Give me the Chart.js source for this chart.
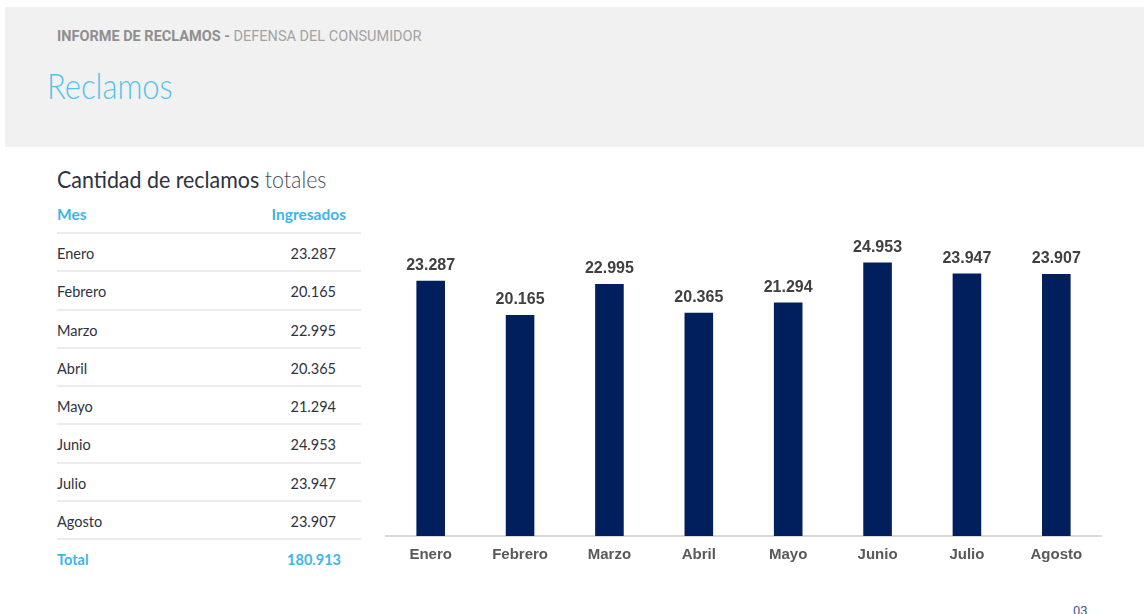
<!DOCTYPE html>
<html><head><meta charset="utf-8">
<script src="https://cdn.jsdelivr.net/npm/chart.js@4.4.1/dist/chart.umd.min.js"></script>
<style>
html,body{margin:0;padding:0;background:#fff;width:1144px;height:614px;overflow:hidden;}
#hdr{position:absolute;left:5px;top:7px;width:1139px;height:140px;background:#f1f1f1;}
#kicker{position:absolute;left:57px;top:28px;font:14.5px "Roboto",sans-serif;color:#a3a3a3;white-space:nowrap;}
#kicker b{color:#8f8f8f;font-weight:700;}
#title{position:absolute;left:47px;top:63px;font:300 36px "Lato",sans-serif;color:#55c3ee;transform:scaleX(0.86);transform-origin:left top;white-space:nowrap;}
#sub{position:absolute;left:57px;top:165px;font:23px "Lato",sans-serif;color:#2f3240;white-space:nowrap;transform:scaleX(0.93);transform-origin:left top;}
#sub span{font-weight:300;color:#4a4d57;}
#tbl{position:absolute;left:57px;top:200px;width:304px;font-family:"Lato",sans-serif;}
.row{position:relative;height:36.3px;border-bottom:2px solid #ececec;font-size:14.5px;color:#2f3240;}
.row .m{position:absolute;left:0;top:11px;}
.row .v{position:absolute;right:25px;top:11px;}
.row.h{height:32px;}
.row.h .m,.row.h .v{top:5px;color:#3db6ea;font-weight:700;font-size:15.5px;}
.row.h .v{right:15px;}
.row.t{border-bottom:none;}
.row.t .m,.row.t .v{color:#3db6ea;font-weight:700;}
.row.t .v{right:20px;}
#wrap{position:absolute;left:370px;top:228px;width:750px;height:360px;}
#pg{position:absolute;left:1073px;top:603px;font:13px "Roboto",sans-serif;color:#4a5a8a;}
</style></head>
<body>
<div id="hdr"></div>
<div id="kicker"><b>INFORME DE RECLAMOS -</b> DEFENSA DEL CONSUMIDOR</div>
<div id="title">Reclamos</div>
<div id="sub">Cantidad de reclamos <span>totales</span></div>
<div id="tbl"></div>
<div id="wrap"><canvas id="c" width="750" height="360"></canvas></div>
<div id="pg">03</div>
<script>
const months = ["Enero","Febrero","Marzo","Abril","Mayo","Junio","Julio","Agosto"];
const reclamos = [23287,20165,22995,20365,21294,24953,23947,23907];
const totalLabel = "Total";
const totalValue = 180913;
const headers = ["Mes","Ingresados"];

const fmt = v => v.toLocaleString('es-AR');

// table
const tbl = document.getElementById('tbl');
let html = '<div class="row h"><span class="m">'+headers[0]+'</span><span class="v">'+headers[1]+'</span></div>';
months.forEach((m,i)=>{ html += '<div class="row"><span class="m">'+m+'</span><span class="v">'+fmt(reclamos[i])+'</span></div>'; });
html += '<div class="row t"><span class="m">'+totalLabel+'</span><span class="v">'+fmt(totalValue)+'</span></div>';
tbl.innerHTML = html;

const labelPlugin = {
  id:'vals',
  afterDatasetsDraw(chart){
    const ctx = chart.ctx;
    const meta = chart.getDatasetMeta(0);
    ctx.save();
    ctx.font = 'bold 16px "Liberation Sans", Arial, sans-serif';
    ctx.fillStyle = '#404040';
    ctx.textAlign = 'center';
    ctx.textBaseline = 'bottom';
    meta.data.forEach((bar,i)=>{
      ctx.fillText(fmt(chart.data.datasets[0].data[i]), bar.x, bar.y - 7);
    });
    ctx.restore();
  }
};

new Chart(document.getElementById('c'), {
  type:'bar',
  data:{ labels: months, datasets:[{ data: reclamos, backgroundColor:'#001f5c', borderWidth:0, barPercentage:0.32, categoryPercentage:1 }]},
  options:{
    responsive:false, animation:false,
    layout:{ padding:{ left:16, right:19, top:12, bottom:14 } },
    plugins:{ legend:{display:false}, tooltip:{enabled:false} },
    scales:{
      x:{ grid:{ display:false, drawTicks:false }, border:{ color:'#d9d9d9', width:2 },
          ticks:{ color:'#595959', padding:10, font:{ family:'"Liberation Sans", Arial, sans-serif', size:15, weight:'bold' } } },
      y:{ display:false, min:0, max:27000 }
    }
  },
  plugins:[labelPlugin]
});
</script>
</body></html>
